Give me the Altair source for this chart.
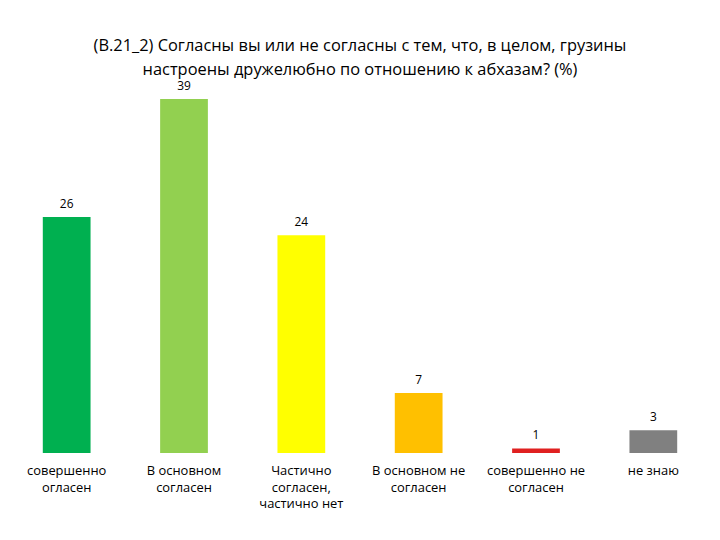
import altair as alt
import pandas as pd

categories = [
    "совершенно\nогласен",
    "В основном\nсогласен",
    "Частично\nсогласен,\nчастично нет",
    "В основном не\nсогласен",
    "совершенно не\nсогласен",
    "не знаю",
]
values = [26, 39, 24, 6.6, 0.5, 2.5]
value_labels = ["26", "39", "24", "7", "1", "3"]
colors = ["#00B050", "#92D050", "#FFFF00", "#FFC000", "#E02020", "#808080"]

df = pd.DataFrame({"cat": categories, "val": values, "lab": value_labels, "col": colors})

font = "Open Sans"

x = alt.X(
    "cat:N",
    sort=categories,
    scale=alt.Scale(paddingInner=0.593, paddingOuter=0.2966),
    axis=alt.Axis(
        title=None,
        labelAngle=0,
        domain=False,
        ticks=False,
        labelPadding=12,
        labelFont=font,
        labelFontSize=13,
        labelColor="#000000",
        labelLineHeight=16.5,
        labelBaseline="top",
        labelExpr="split(datum.label, '\\n')",
    ),
)
y = alt.Y("val:Q", scale=alt.Scale(domain=[0, 40]), axis=None)

bars = alt.Chart(df).mark_bar().encode(
    x=x, y=y, color=alt.Color("col:N", scale=None)
)
texts = alt.Chart(df).mark_text(
    dy=-13, baseline="middle", font=font, fontSize=12, color="#000000"
).encode(x=x, y=y, text="lab:N")

chart = (
    alt.layer(bars, texts)
    .properties(
        width=708,
        height=365,
        title=alt.TitleParams(
            text=[
                "(В.21_2)  Согласны  вы или не согласны с тем, что, в целом, грузины",
                "настроены дружелюбно по отношению к абхазам? (%)",
            ],
            font=font,
            fontSize=16.5,
            fontWeight="normal",
            color="#000000",
            lineHeight=24,
            anchor="middle",
            offset=2,
        ),
        autosize=alt.AutoSizeParams(type="none"),
        padding={"left": 0, "top": 81, "right": 0, "bottom": 80},
    )
    .configure(background="#ffffff")
    .configure_view(stroke="transparent", strokeWidth=0)
)

chart.save("out.html", embed_options={"renderer": "svg", "actions": False})
